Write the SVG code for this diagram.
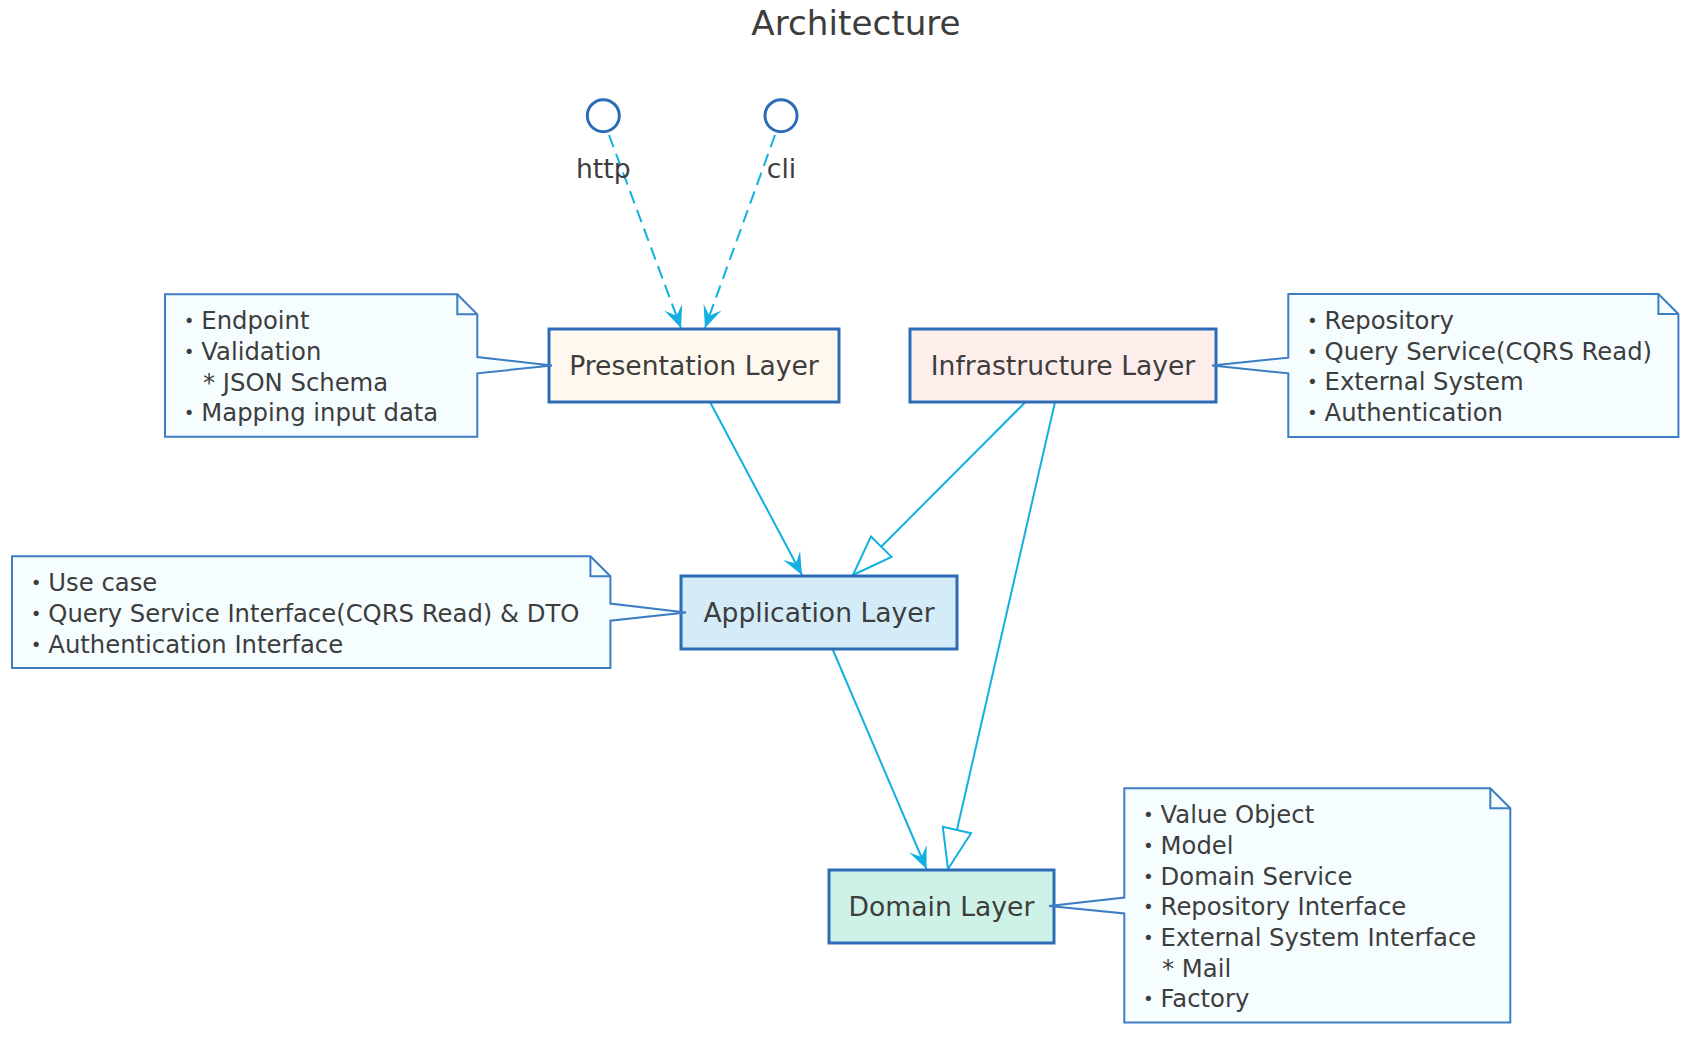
<svg xmlns="http://www.w3.org/2000/svg" width="1700" height="1044" viewBox="0 0 1700 1044">
<style>
  text { font-family: "DejaVu Sans", "Noto Sans CJK JP", sans-serif; fill: #3d3d3d; }
  .title { font-size: 34.2px; text-anchor: middle; }
  .node rect { stroke: #2c6cb6; stroke-width: 3; }
  .node text { font-size: 26.6px; text-anchor: middle; }
  .iface circle { fill: #ffffff; stroke: #2c6cb6; stroke-width: 3; }
  .iface text { font-size: 26.6px; text-anchor: middle; }
  .note path { fill: #f5fdff; stroke: #3c7dc4; stroke-width: 2; stroke-linejoin: miter; }
  .note path.fold { fill: none; }
  .note text { font-size: 24.3px; }
  .edge { fill: none; stroke: #12b0e0; stroke-width: 2; }
  .dash { stroke-dasharray: 13 7; }
</style>
<defs>
  <marker id="arrow" markerUnits="userSpaceOnUse" orient="auto" refX="0" refY="0" markerWidth="30" markerHeight="30" viewBox="-25 -15 30 30" overflow="visible">
    <path d="M0,0 L-22,-9.5 L-13,0 L-22,9.5 Z" fill="#12b0e0"/>
  </marker>
  <marker id="triangle" markerUnits="userSpaceOnUse" orient="auto" refX="0" refY="0" markerWidth="50" markerHeight="40" viewBox="-45 -20 50 40" overflow="visible">
    <path d="M0,0 L-40,-14.5 L-40,14.5 Z" fill="#ffffff" stroke="#12b0e0" stroke-width="2" stroke-linejoin="miter"/>
  </marker>
</defs>

<rect x="0" y="0" width="1700" height="1044" fill="#ffffff"/>

<text class="title" x="856" y="35">Architecture</text>

<g id="connectors">
  <path class="edge dash" d="M609,135 L681,328" marker-end="url(#arrow)"/>
  <path class="edge dash" d="M775,135 L705,328" marker-end="url(#arrow)"/>
  <path class="edge" d="M710,402 L802,575" marker-end="url(#arrow)"/>
  <path class="edge" d="M1025.5,402 L853,575" marker-end="url(#triangle)"/>
  <path class="edge" d="M1055,402 L948,869" marker-end="url(#triangle)"/>
  <path class="edge" d="M832.5,649 L926.5,869" marker-end="url(#arrow)"/>
</g>

<g id="http" class="iface">
  <circle cx="603.3" cy="115.7" r="16"/>
  <text x="603.3" y="177.5">http</text>
</g>
<g id="cli" class="iface">
  <circle cx="781" cy="115.7" r="16"/>
  <text x="781.5" y="177.5">cli</text>
</g>

<g id="presentation" class="node">
  <rect x="549" y="329" width="290" height="73" fill="#fef8ee"/>
  <text x="694" y="375">Presentation Layer</text>
</g>
<g id="infrastructure" class="node">
  <rect x="910" y="329" width="306" height="73" fill="#fdeeec"/>
  <text x="1063" y="375">Infrastructure Layer</text>
</g>
<g id="application" class="node">
  <rect x="681" y="576" width="276" height="73" fill="#d3ecf8"/>
  <text x="819" y="622">Application Layer</text>
</g>
<g id="domain" class="node">
  <rect x="829" y="870" width="225" height="73" fill="#cef2e8"/>
  <text x="941.5" y="916">Domain Layer</text>
</g>

<g id="note-presentation" class="note">
  <path d="M165,294.3 L457.3,294.3 L477.3,314.3 L477.3,357 L552,365.5 L477.3,373.3 L477.3,436.7 L165,436.7 Z"/>
  <path class="fold" d="M457.3,294.3 L457.3,314.3 L477.3,314.3"/>
  <text x="177" y="329.3">・Endpoint</text>
  <text x="177" y="360">・Validation</text>
  <text x="203" y="390.7">* JSON Schema</text>
  <text x="177" y="421.4">・Mapping input data</text>
</g>

<g id="note-infrastructure" class="note">
  <path d="M1288.3,294 L1658.4,294 L1678.4,314 L1678.4,437 L1288.3,437 L1288.3,373.3 L1212,365.5 L1288.3,357.7 Z"/>
  <path class="fold" d="M1658.4,294 L1658.4,314 L1678.4,314"/>
  <text x="1300.3" y="329">・Repository</text>
  <text x="1300.3" y="359.7">・Query Service(CQRS Read)</text>
  <text x="1300.3" y="390.4">・External System</text>
  <text x="1300.3" y="421.1">・Authentication</text>
</g>

<g id="note-application" class="note">
  <path d="M12,556.2 L590.4,556.2 L610.4,576.2 L610.4,603.5 L686,612.5 L610.4,620.7 L610.4,668 L12,668 Z"/>
  <path class="fold" d="M590.4,556.2 L590.4,576.2 L610.4,576.2"/>
  <text x="24" y="591.2">・Use case</text>
  <text x="24" y="621.9">・Query Service Interface(CQRS Read) &amp; DTO</text>
  <text x="24" y="652.6">・Authentication Interface</text>
</g>

<g id="note-domain" class="note">
  <path d="M1124.3,788.2 L1490.3,788.2 L1510.3,808.2 L1510.3,1022.4 L1124.3,1022.4 L1124.3,913.5 L1049,906 L1124.3,897.5 Z"/>
  <path class="fold" d="M1490.3,788.2 L1490.3,808.2 L1510.3,808.2"/>
  <text x="1136.3" y="823.2">・Value Object</text>
  <text x="1136.3" y="853.9">・Model</text>
  <text x="1136.3" y="884.6">・Domain Service</text>
  <text x="1136.3" y="915.3">・Repository Interface</text>
  <text x="1136.3" y="946">・External System Interface</text>
  <text x="1162" y="976.7">* Mail</text>
  <text x="1136.3" y="1007.4">・Factory</text>
</g>
</svg>
